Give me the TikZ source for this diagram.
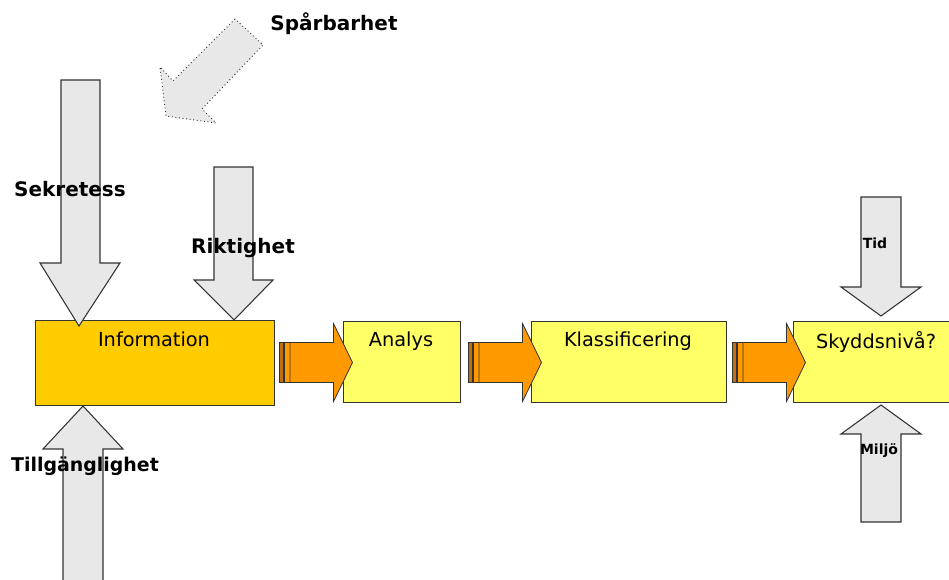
\documentclass[tikz,border=0pt]{standalone}
\usepackage{fontspec}
\setmainfont{DejaVu Sans}
\begin{document}
\begin{tikzpicture}[x=0.75pt,y=-0.75pt,
  line join=miter,
  grayarrow/.style={draw=black!80,fill=gray!18,line width=0.8pt},
  dotarrow/.style={draw=black!80,fill=gray!18,line width=0.7pt,dotted},
  stagebox/.style={draw=black!80,line width=0.8pt,anchor=north west,inner sep=0pt},
  stagetext/.style={font=\fontsize{14.5}{16}\selectfont,anchor=center},
  biglabel/.style={font=\bfseries\fontsize{15}{17}\selectfont,anchor=center},
  smalllabel/.style={font=\bfseries\fontsize{10.5}{12}\selectfont,anchor=center},
  flowbar/.style={draw=black!80,line width=0.6pt},
]
\definecolor{gold}{HTML}{FFCC00}
\definecolor{paleyellow}{HTML}{FFFF66}
\definecolor{flow}{HTML}{FF9900}
\definecolor{flowdark}{HTML}{C07010}
\useasboundingbox (0,0) rectangle (949,580);
\clip (0,0) rectangle (949,580);

% process stages
\node[stagebox,fill=gold,minimum width=179.25pt,minimum height=63.75pt] (info) at (35,320) {};
\node[stagebox,fill=paleyellow,minimum width=87.75pt,minimum height=60.75pt] (analys) at (343,321) {};
\node[stagebox,fill=paleyellow,minimum width=146.25pt,minimum height=60.75pt] (klass) at (531,321) {};
\node[stagebox,fill=paleyellow,minimum width=120pt,minimum height=60.75pt] (skydd) at (793,321) {};

\node[stagetext] (infotxt) at (154,339) {Information};
\node[stagetext] (analystxt) at (401,341) {Analys};
\node[stagetext] (klasstxt) at (628,341) {Klassificering};
\node[stagetext] (skyddtxt) at (876,342) {Skyddsnivå?};

% orange flow arrows between the stages
\foreach \x in {279,468,732}{
  \begin{scope}[shift={(\x,0)}]
    \filldraw[flowbar,fill=flowdark] (0,342.5) rectangle (4,382.5);
    \filldraw[flowbar,fill=flow] (5.5,342.5) rectangle (11,382.5);
    \filldraw[flowbar,fill=flow] (11,342.5) -- (54.5,342.5) -- (54.5,323.5) -- (73.5,362.5)
      -- (54.5,401.5) -- (54.5,382.5) -- (11,382.5) -- cycle;
  \end{scope}
}

% grey influence arrows
\draw[grayarrow] (61,80) -- (100,80) -- (100,263) -- (120,263) -- (79,326)
  -- (40,263) -- (61,263) -- cycle;
\draw[grayarrow] (214,167) -- (253,167) -- (253,280) -- (273,280) -- (234,320)
  -- (194,280) -- (214,280) -- cycle;
\draw[grayarrow] (63,590) -- (63,449) -- (43,449) -- (83,406) -- (123,449)
  -- (103,449) -- (103,590) -- cycle;
\draw[grayarrow] (861,197) -- (901,197) -- (901,287) -- (921,287) -- (881,316)
  -- (841,287) -- (861,287) -- cycle;
\draw[grayarrow] (861,522) -- (861,434) -- (841,434) -- (881,405) -- (921,434)
  -- (901,434) -- (901,522) -- cycle;
\draw[dotarrow] (235,19) -- (173,81) -- (160,67) -- (166,116) -- (216,123)
  -- (202,109) -- (263,45) -- cycle;

% labels
\node[biglabel] (lsparb) at (334,24) {Spårbarhet};
\node[biglabel] (lsekr) at (70,189) {Sekretess};
\node[biglabel] (lrikt) at (243,248) {Riktighet};
\node[biglabel,font=\bfseries\fontsize{14.2}{17}\selectfont] (ltillg) at (85,466) {Tillgänglighet};
\node[smalllabel] (ltid) at (875,243) {Tid};
\node[smalllabel] (lmiljo) at (879,451) {Miljö};
\end{tikzpicture}
\end{document}
